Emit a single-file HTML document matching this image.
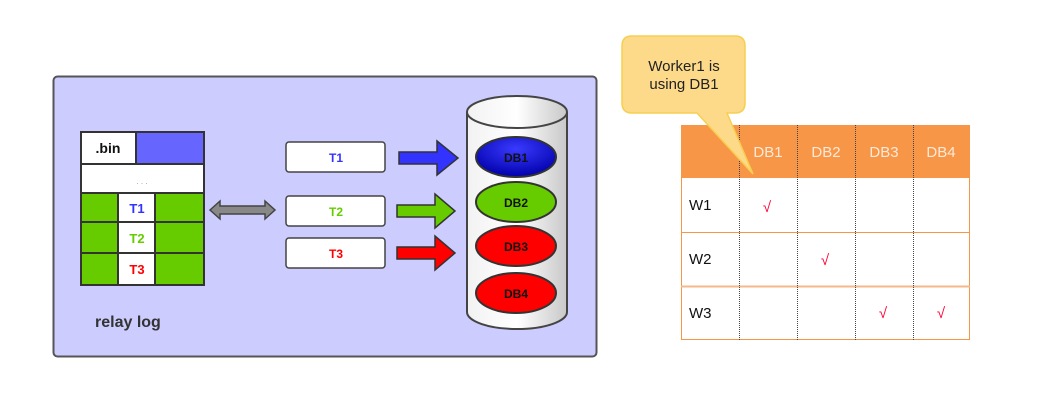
<!DOCTYPE html>
<html><head><meta charset="utf-8"><style>
body{margin:0;background:#fff;width:1055px;height:410px;overflow:hidden;font-family:"Liberation Sans",sans-serif}
</style></head><body>
<svg width="1055" height="410" xmlns="http://www.w3.org/2000/svg" font-family="Liberation Sans, sans-serif">
<defs>
<linearGradient id="cyl" x1="0" x2="1"><stop offset="0" stop-color="#f2f2f2"/><stop offset="0.5" stop-color="#ffffff"/><stop offset="1" stop-color="#c8c8c8"/></linearGradient>
<radialGradient id="b" cx="0.5" cy="0.3" r="0.7"><stop offset="0" stop-color="#3a3aff"/><stop offset="1" stop-color="#0000aa"/></radialGradient>
</defs>
<rect x="53.5" y="76.5" width="543" height="280" rx="4" fill="#ccccff" stroke="#555" stroke-width="2"/>
<!-- relay log table -->
<g stroke="#333" stroke-width="2">
<rect x="81" y="132" width="123" height="153" fill="#fff"/>
<rect x="136" y="132" width="68" height="32" fill="#6666ff"/>
<line x1="81" y1="164" x2="204" y2="164"/>
<rect x="81" y="193" width="123" height="92" fill="#66cc00"/>
<rect x="118" y="193" width="37" height="92" fill="#fff"/>
<line x1="81" y1="222" x2="204" y2="222"/><line x1="81" y1="253" x2="204" y2="253"/>
</g>
<text x="108" y="153" font-size="14" font-weight="bold" text-anchor="middle" fill="#111">.bin</text>
<text x="142" y="184" font-size="8" text-anchor="middle" fill="#999">. . .</text>
<text x="137" y="213" font-size="13" font-weight="bold" text-anchor="middle" fill="#3333ff">T1</text>
<text x="137" y="243" font-size="13" font-weight="bold" text-anchor="middle" fill="#66cc00">T2</text>
<text x="137" y="274" font-size="13" font-weight="bold" text-anchor="middle" fill="#ff0000">T3</text>
<text x="95" y="327" font-size="16" font-weight="bold" fill="#333">relay log</text>
<!-- double arrow -->
<polygon points="210,210 220,201 220,206 265,206 265,201 275,210 265,219 265,214 220,214 220,219" fill="#888" stroke="#444" stroke-width="1.5"/>
<!-- boxes -->
<g stroke="#444" stroke-width="1.5" fill="#fff">
<rect x="286" y="142" width="99" height="30" rx="3"/>
<rect x="286" y="196" width="99" height="30" rx="3"/>
<rect x="286" y="238" width="99" height="30" rx="3"/>
</g>
<text x="336" y="162" font-size="12" font-weight="bold" text-anchor="middle" fill="#3333ff">T1</text>
<text x="336" y="216" font-size="12" font-weight="bold" text-anchor="middle" fill="#66cc00">T2</text>
<text x="336" y="258" font-size="12" font-weight="bold" text-anchor="middle" fill="#ff0000">T3</text>
<!-- arrows -->
<g stroke="#333" stroke-width="1.5">
<polygon points="399,152 437,152 437,141 458,158 437,175 437,164 399,164" fill="#3333ff"/>
<polygon points="397,205 435,205 435,194 455,211 435,228 435,217 397,217" fill="#66cc00"/>
<polygon points="397,247 435,247 435,236 455,253 435,270 435,259 397,259" fill="#ff0000"/>
</g>
<!-- cylinder -->
<path d="M467,112 L467,312 A50,17 0 0 0 567,312 L567,112" fill="url(#cyl)" stroke="#444" stroke-width="2"/>
<ellipse cx="517" cy="112" rx="50" ry="16" fill="url(#cyl)" stroke="#444" stroke-width="2"/>
<g stroke="#333" stroke-width="2">
<ellipse cx="516" cy="157" rx="40" ry="20" fill="url(#b)"/>
<ellipse cx="516" cy="202" rx="40" ry="20" fill="#66cc00"/>
<ellipse cx="516" cy="246" rx="40" ry="20" fill="#ff0000"/>
<ellipse cx="516" cy="293" rx="40" ry="20" fill="#ff0000"/>
</g>
<g font-size="12" font-weight="bold" text-anchor="middle" fill="#111">
<text x="516" y="162">DB1</text><text x="516" y="207">DB2</text><text x="516" y="251">DB3</text><text x="516" y="298">DB4</text>
</g>
<!-- table -->
<rect x="681" y="125" width="289" height="53" fill="#f79646"/>
<g stroke="#f79646" stroke-width="1" fill="none">
<rect x="681.5" y="125.5" width="288" height="214"/>
<line x1="681" y1="232.5" x2="970" y2="232.5"/>
<line x1="681" y1="286.5" x2="970" y2="286.5" stroke="#f5b88a" stroke-width="2"/>
</g>
<g stroke="#444" stroke-width="1" stroke-dasharray="1,1">
<line x1="739.5" y1="125" x2="739.5" y2="340"/><line x1="797.5" y1="125" x2="797.5" y2="340"/>
<line x1="855.5" y1="125" x2="855.5" y2="340"/><line x1="913.5" y1="125" x2="913.5" y2="340"/>
</g>
<g font-size="15" fill="#fde9d9" text-anchor="middle">
<text x="768" y="157">DB1</text><text x="826" y="157">DB2</text><text x="884" y="157">DB3</text><text x="941" y="157">DB4</text>
</g>
<g font-size="15" fill="#111">
<text x="689" y="210">W1</text><text x="689" y="264">W2</text><text x="689" y="318">W3</text>
</g>
<g font-size="15" fill="#ff0033" text-anchor="middle">
<text x="767" y="212">√</text><text x="825" y="265">√</text><text x="883" y="318">√</text><text x="941" y="318">√</text>
</g>
<!-- callout -->
<path d="M632,36 L735,36 Q745,36 745,46 L745,103 Q745,113 735,113 L727,113 L753,174 L697,113 L632,113 Q622,113 622,103 L622,46 Q622,36 632,36 Z" fill="#fdd98a" stroke="#f7cf50" stroke-width="1.5"/>
<text x="684" y="71" font-size="15" text-anchor="middle" fill="#222">Worker1 is</text>
<text x="684" y="89" font-size="15" text-anchor="middle" fill="#222">using DB1</text>
</svg>
</body></html>
